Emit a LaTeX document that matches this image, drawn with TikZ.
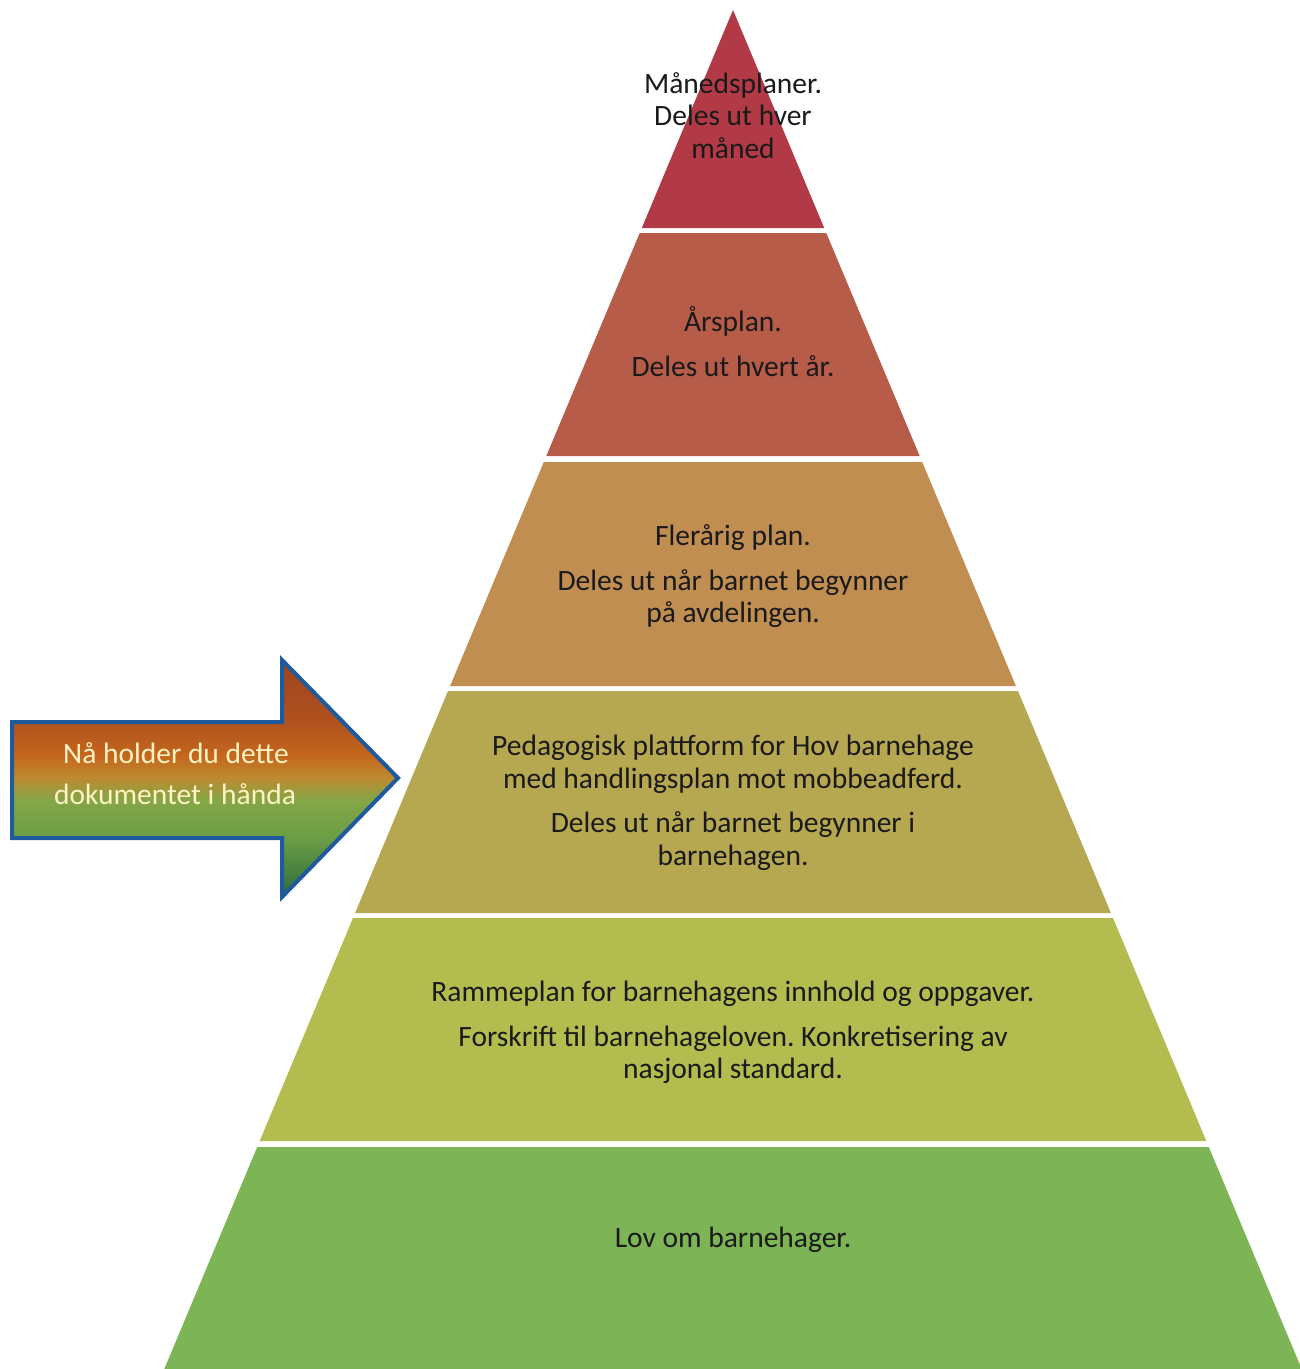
\documentclass[tikz,border=0pt]{standalone}
\usepackage{fontspec}
\setmainfont{Carlito}
\frenchspacing
\definecolor{tA}{HTML}{B23A46}
\definecolor{tB}{HTML}{B85C4A}
\definecolor{tC}{HTML}{C18E52}
\definecolor{tD}{HTML}{B6A751}
\definecolor{tE}{HTML}{B3BC4F}
\definecolor{tF}{HTML}{7DB455}
\definecolor{arrowblue}{HTML}{1E5A9C}
\definecolor{cream}{HTML}{FFF3C4}
\definecolor{ink}{HTML}{1A1A1A}
\pgfdeclareverticalshading{arrowshade}{100bp}{%
rgb(0bp)=(0.18,0.42,0.243);
rgb(25bp)=(0.18,0.42,0.243);
rgb(37.4bp)=(0.42,0.616,0.271);
rgb(45.5bp)=(0.518,0.651,0.278);
rgb(50.1bp)=(0.745,0.541,0.188);
rgb(55bp)=(0.769,0.4,0.11);
rgb(61.9bp)=(0.69,0.322,0.118);
rgb(75bp)=(0.62,0.263,0.125);
rgb(100bp)=(0.62,0.263,0.125)}
\begin{document}
\begin{tikzpicture}[x=1pt,y=-1pt,
  tier/.style={fill=#1,draw=none},
  lbl/.style={inner sep=0pt,anchor=base,text=ink,font=\fontsize{29.5}{32}\selectfont},
  albl/.style={inner sep=0pt,anchor=base,text=cream,font=\fontsize{29.5}{32}\selectfont}]
\useasboundingbox[fill=white] (0,0) rectangle (1300,1369);
% pyramid tiers
\fill[tier=tA] (733,10) -- (824.2,228) -- (641.8,228) -- cycle;
\fill[tier=tB] (639.7,233) -- (826.3,233) -- (919.7,456) -- (546.3,456) -- cycle;
\fill[tier=tC] (543.8,462) -- (922.2,462) -- (1015.9,686) -- (450.1,686) -- cycle;
\fill[tier=tD] (448.0,691) -- (1018.0,691) -- (1110.9,913) -- (355.1,913) -- cycle;
\fill[tier=tE] (353.0,918) -- (1113.0,918) -- (1206.3,1141) -- (259.7,1141) -- cycle;
\fill[tier=tF] (257.2,1147) -- (1208.8,1147) -- (1301.7,1369) -- (164.3,1369) -- cycle;
% tier texts
\node[lbl] (t1a) at (733,93) {Månedsplaner.};
\node[lbl] (t1b) at (733,125) {Deles ut hver};
\node[lbl] (t1c) at (733,158) {måned};
\node[lbl] (t2a) at (733,331) {Årsplan.};
\node[lbl] (t2b) at (733,376) {Deles ut hvert år.};
\node[lbl] (t3a) at (733,545) {Flerårig plan.};
\node[lbl] (t3b) at (733,590) {Deles ut når barnet begynner};
\node[lbl] (t3c) at (733,622) {på avdelingen.};
\node[lbl] (t4a) at (733,755) {Pedagogisk plattform for Hov barnehage};
\node[lbl] (t4b) at (733,788) {med handlingsplan mot mobbeadferd.};
\node[lbl] (t4c) at (733,832) {Deles ut når barnet begynner i};
\node[lbl] (t4d) at (733,865) {barnehagen.};
\node[lbl] (t5a) at (733,1001) {Rammeplan for barnehagens innhold og oppgaver.};
\node[lbl] (t5b) at (733,1046) {Forskrift til barnehageloven. Konkretisering av};
\node[lbl] (t5c) at (733,1078) {nasjonal standard.};
\node[lbl] (t6a) at (733,1247) {Lov om barnehager.};
% arrow
\draw[arrowblue,line width=4pt,line join=miter,shading=arrowshade]
  (12,722) -- (282,722) -- (282,660) -- (398,778) -- (282,897) -- (282,838) -- (12,838) -- cycle;
\node[albl] (a1) at (176,763) {Nå holder du dette};
\node[albl] (a2) at (175,804) {dokumentet i hånda};
\end{tikzpicture}
\end{document}
